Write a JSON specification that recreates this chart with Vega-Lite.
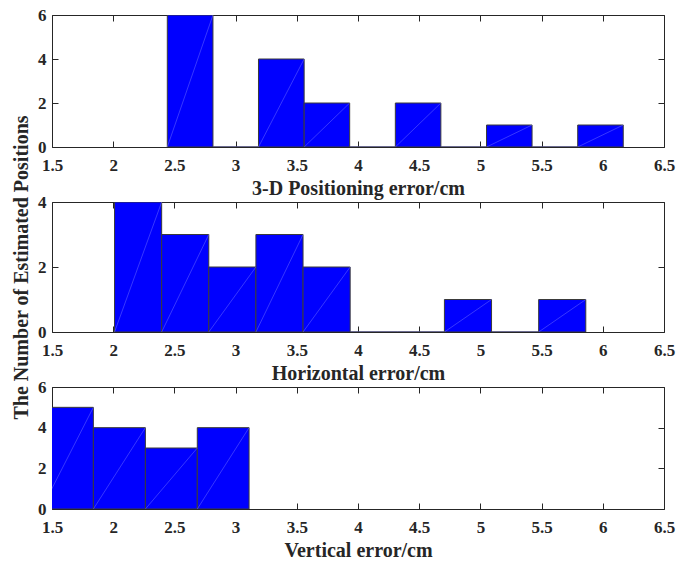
{
  "$schema": "https://vega.github.io/schema/vega-lite/v6.json",
  "autosize": {"type": "pad"},
  "padding": {"left": 10, "top": 5, "right": 4, "bottom": 4},
  "background": "white",
  "datasets": {
    "d1": [
      {"x0": 2.442, "x1": 2.815, "n": 6},
      {"x0": 2.815, "x1": 3.187, "n": 0},
      {"x0": 3.187, "x1": 3.560, "n": 4},
      {"x0": 3.560, "x1": 3.932, "n": 2},
      {"x0": 3.932, "x1": 4.305, "n": 0},
      {"x0": 4.305, "x1": 4.677, "n": 2},
      {"x0": 4.677, "x1": 5.050, "n": 0},
      {"x0": 5.050, "x1": 5.422, "n": 1},
      {"x0": 5.422, "x1": 5.795, "n": 0},
      {"x0": 5.795, "x1": 6.167, "n": 1}
    ],
    "d2": [
      {"x0": 2.011, "x1": 2.396, "n": 4},
      {"x0": 2.396, "x1": 2.781, "n": 3},
      {"x0": 2.781, "x1": 3.166, "n": 2},
      {"x0": 3.166, "x1": 3.551, "n": 3},
      {"x0": 3.551, "x1": 3.936, "n": 2},
      {"x0": 3.936, "x1": 4.321, "n": 0},
      {"x0": 4.321, "x1": 4.706, "n": 0},
      {"x0": 4.706, "x1": 5.091, "n": 1},
      {"x0": 5.091, "x1": 5.476, "n": 0},
      {"x0": 5.476, "x1": 5.861, "n": 1}
    ],
    "d3": [
      {"x0": 1.414, "x1": 1.838, "n": 5},
      {"x0": 1.838, "x1": 2.263, "n": 4},
      {"x0": 2.263, "x1": 2.687, "n": 3},
      {"x0": 2.687, "x1": 3.110, "n": 4}
    ]
  },
  "vconcat": [
    {
      "width": 612, "height": 132,
      "data": {"name": "d1"},
      "layer": [
        {
          "mark": {"type": "bar", "fill": "#0000ff", "stroke": "#3a3a3a", "strokeWidth": 1, "clip": true},
          "encoding": {
            "x": {"field": "x0", "type": "quantitative", "scale": {"domain": [1.5, 6.5], "nice": false, "zero": false},
                  "axis": {"orient": "bottom", "values": [1.5, 2, 2.5, 3, 3.5, 4, 4.5, 5, 5.5, 6, 6.5], "format": "~g", "title": "3-D Positioning error/cm"}},
            "x2": {"field": "x1"},
            "y": {"field": "n", "type": "quantitative", "scale": {"domain": [0, 6], "nice": false},
                  "axis": {"orient": "left", "values": [0, 2, 4, 6], "format": "d", "title": null}},
            "y2": {"datum": 0}
          }
        },
        {
          "mark": {"type": "rule", "color": "#6f6fff", "strokeWidth": 0.5, "clip": true},
          "encoding": {
            "x": {"field": "x1", "type": "quantitative",
                  "axis": {"orient": "top", "values": [1.5, 2, 2.5, 3, 3.5, 4, 4.5, 5, 5.5, 6, 6.5], "labels": false, "title": null}},
            "x2": {"field": "x0"},
            "y": {"field": "n", "type": "quantitative",
                  "axis": {"orient": "right", "values": [0, 2, 4, 6], "labels": false, "title": null}},
            "y2": {"datum": 0}
          }
        }
      ],
      "resolve": {"axis": {"x": "independent", "y": "independent"}}
    },
    {
      "width": 612, "height": 130,
      "data": {"name": "d2"},
      "layer": [
        {
          "mark": {"type": "bar", "fill": "#0000ff", "stroke": "#3a3a3a", "strokeWidth": 1, "clip": true},
          "encoding": {
            "x": {"field": "x0", "type": "quantitative", "scale": {"domain": [1.5, 6.5], "nice": false, "zero": false},
                  "axis": {"orient": "bottom", "values": [1.5, 2, 2.5, 3, 3.5, 4, 4.5, 5, 5.5, 6, 6.5], "format": "~g", "title": "Horizontal error/cm"}},
            "x2": {"field": "x1"},
            "y": {"field": "n", "type": "quantitative", "scale": {"domain": [0, 4], "nice": false},
                  "axis": {"orient": "left", "values": [0, 2, 4], "format": "d", "title": "The Number of Estimated Positions", "titlePadding": 6}},
            "y2": {"datum": 0}
          }
        },
        {
          "mark": {"type": "rule", "color": "#6f6fff", "strokeWidth": 0.5, "clip": true},
          "encoding": {
            "x": {"field": "x1", "type": "quantitative",
                  "axis": {"orient": "top", "values": [1.5, 2, 2.5, 3, 3.5, 4, 4.5, 5, 5.5, 6, 6.5], "labels": false, "title": null}},
            "x2": {"field": "x0"},
            "y": {"field": "n", "type": "quantitative",
                  "axis": {"orient": "right", "values": [0, 2, 4], "labels": false, "title": null}},
            "y2": {"datum": 0}
          }
        }
      ],
      "resolve": {"axis": {"x": "independent", "y": "independent"}}
    },
    {
      "width": 612, "height": 122,
      "data": {"name": "d3"},
      "layer": [
        {
          "mark": {"type": "bar", "fill": "#0000ff", "stroke": "#3a3a3a", "strokeWidth": 1, "clip": true},
          "encoding": {
            "x": {"field": "x0", "type": "quantitative", "scale": {"domain": [1.5, 6.5], "nice": false, "zero": false},
                  "axis": {"orient": "bottom", "values": [1.5, 2, 2.5, 3, 3.5, 4, 4.5, 5, 5.5, 6, 6.5], "format": "~g", "title": "Vertical error/cm"}},
            "x2": {"field": "x1"},
            "y": {"field": "n", "type": "quantitative", "scale": {"domain": [0, 6], "nice": false},
                  "axis": {"orient": "left", "values": [0, 2, 4, 6], "format": "d", "title": null}},
            "y2": {"datum": 0}
          }
        },
        {
          "mark": {"type": "rule", "color": "#6f6fff", "strokeWidth": 0.5, "clip": true},
          "encoding": {
            "x": {"field": "x1", "type": "quantitative",
                  "axis": {"orient": "top", "values": [1.5, 2, 2.5, 3, 3.5, 4, 4.5, 5, 5.5, 6, 6.5], "labels": false, "title": null}},
            "x2": {"field": "x0"},
            "y": {"field": "n", "type": "quantitative",
                  "axis": {"orient": "right", "values": [0, 2, 4, 6], "labels": false, "title": null}},
            "y2": {"datum": 0}
          }
        }
      ],
      "resolve": {"axis": {"x": "independent", "y": "independent"}}
    }
  ],
  "spacing": 55,
  "bounds": "flush",
  "config": {
    "font": "Liberation Serif",
    "view": {"stroke": "#262626", "strokeWidth": 1},
    "axis": {
      "domain": false, "grid": false, "offset": -6,
      "tickSize": 6, "tickColor": "#262626", "tickWidth": 1,
      "labelFont": "Liberation Serif", "labelFontSize": 17, "labelFontWeight": "bold", "labelColor": "#262626",
      "labelFlush": false, "labelOverlap": false,
      "titleFont": "Liberation Serif", "titleFontSize": 20, "titleFontWeight": "bold", "titleColor": "#262626"
    },
    "axisX": {"labelPadding": 10, "titlePadding": 5},
    "axisY": {"labelPadding": 6}
  }
}
